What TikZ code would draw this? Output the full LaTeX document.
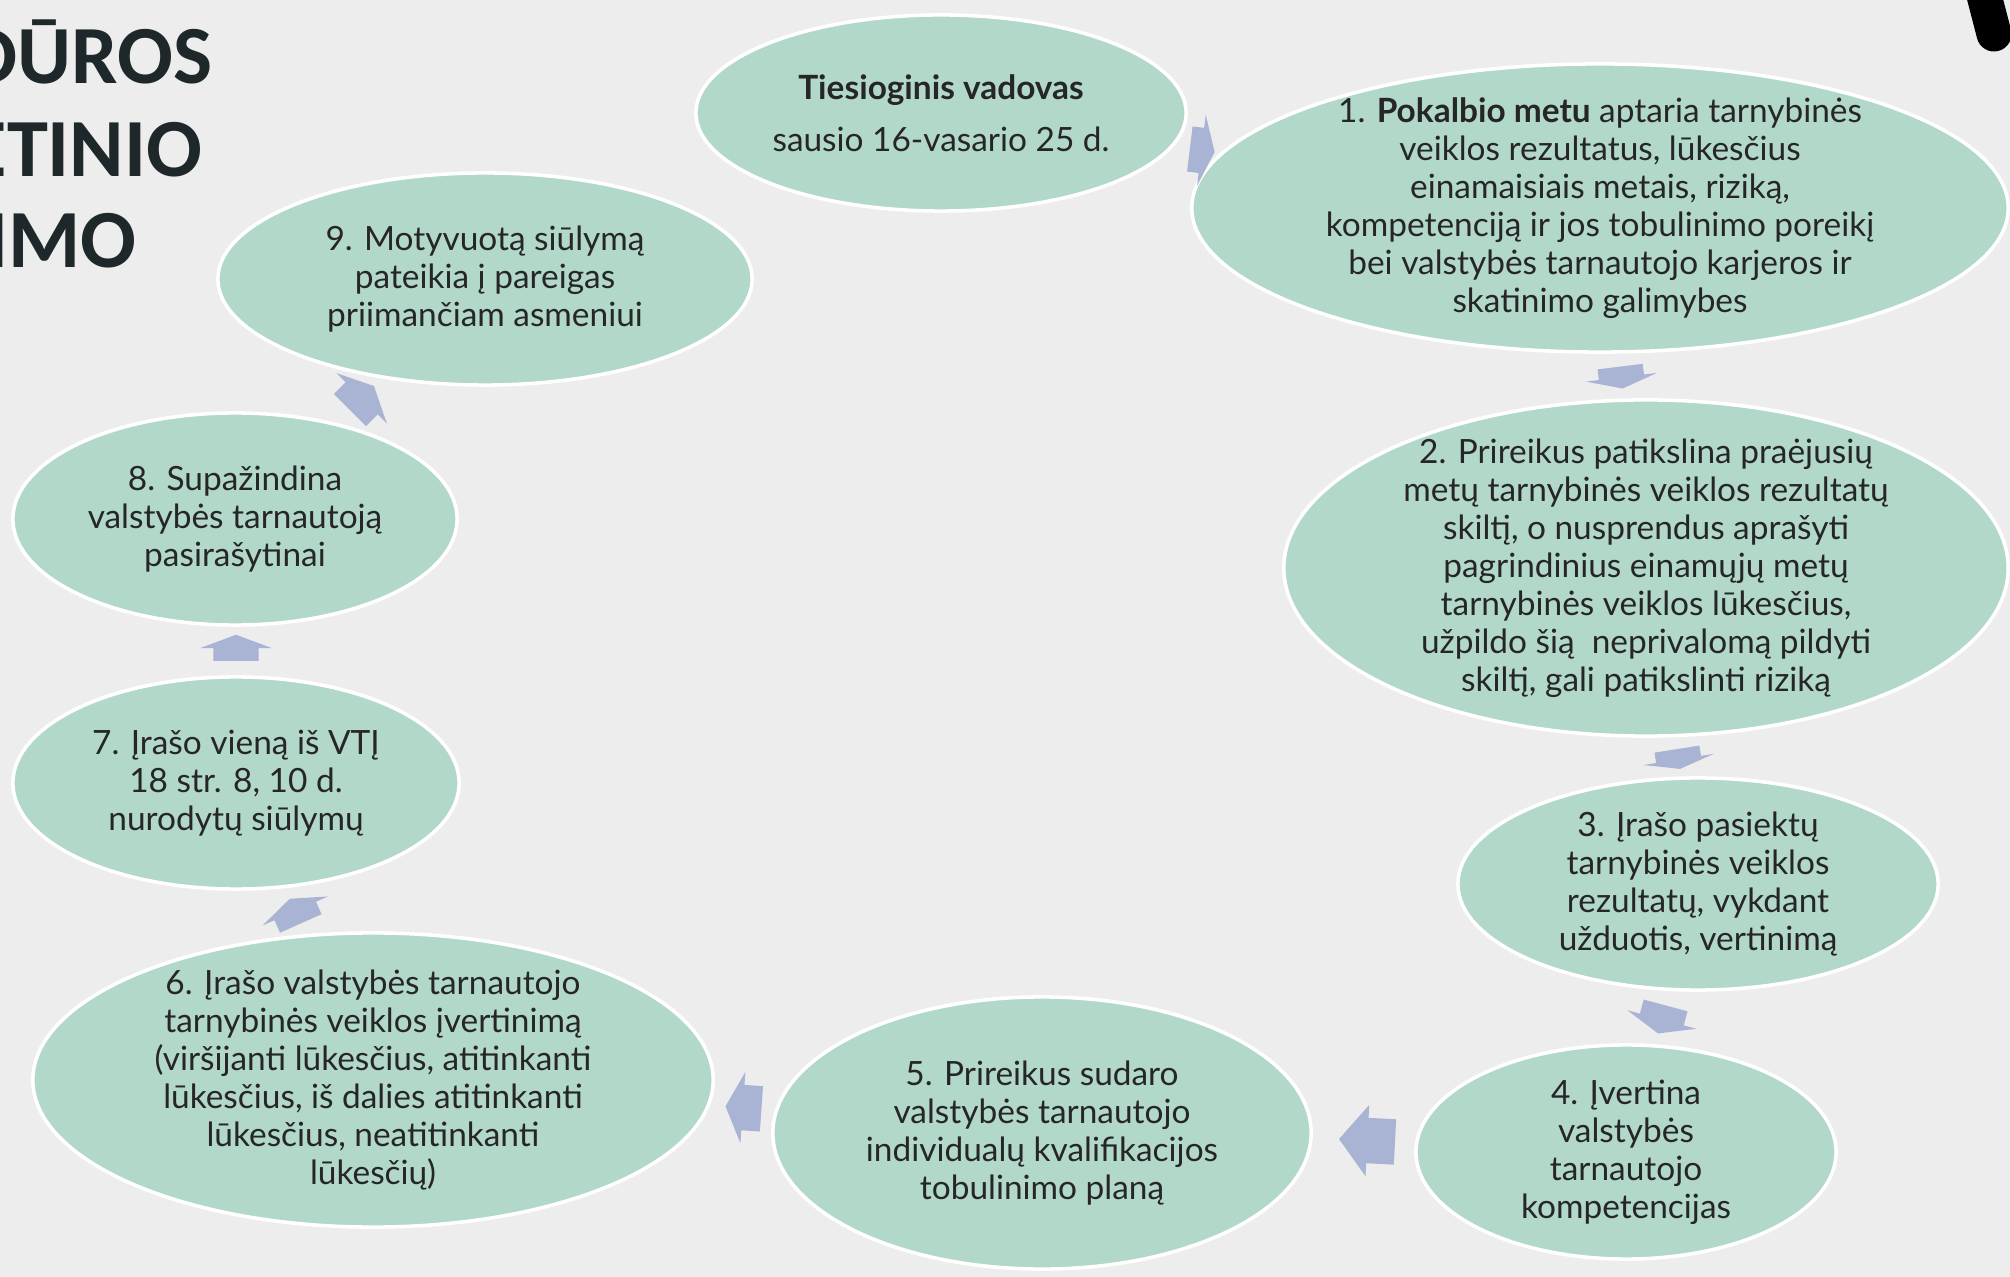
\documentclass[tikz,border=0pt]{standalone}
\usepackage{fontspec}
\setmainfont{Lato}
\newfontfamily\titlefont{Carlito}
\usetikzlibrary{shapes.geometric,shapes.arrows}

\definecolor{bgc}{HTML}{EDEDED}
\definecolor{bubblec}{HTML}{B2D8CA}
\definecolor{arrowc}{HTML}{A9B3D3}
\definecolor{titlec}{HTML}{1E282A}
\definecolor{textc}{HTML}{262626}

\tikzset{
  bubble/.style={ellipse, fill=bubblec, draw=white, line width=1pt, inner sep=0pt},
  bubbletext/.style={align=center, text=textc, inner sep=0pt, font=\fontsize{9.5}{10.8}\selectfont},
  cyclearrow/.style={single arrow, fill=arrowc, draw=none, inner xsep=0pt, inner ysep=0.22cm,
    minimum width=0.7cm, single arrow head extend=0.13cm},
  titletext/.style={anchor=base east, inner sep=0pt, text=titlec,
    font=\titlefont\bfseries\fontsize{23.5}{26}\selectfont}
}

\begin{document}
\begin{tikzpicture}[x=0.01cm, y=-0.01cm]
    \fill [bgc] (0,0) rectangle (2010,1277);
    \useasboundingbox (0,0) rectangle (2010,1277);
    \clip (0,0) rectangle (2010,1277);

    % title, cut at the left edge
    \node [titletext] (title1) at (213,84) {DŪROS};
    \node [titletext] (title2) at (203,177) {ETINIO};
    \node [titletext] (title3) at (137,268) {IMO};
    % piece of a mark at the top right
    \draw [line width=0.35cm, line cap=round] (1980,-20) -- (1994,34);

    % the steps
    \node [bubble, minimum width=4.9cm, minimum height=1.96cm] (e0) at (941,113) {};
    \node [bubble, minimum width=8.16cm, minimum height=2.88cm] (e1) at (1600,208) {};
    \node [bubble, minimum width=7.24cm, minimum height=3.36cm] (e2) at (1646,568) {};
    \node [bubble, minimum width=4.8cm, minimum height=2.12cm] (e3) at (1698,884) {};
    \node [bubble, minimum width=4.2cm, minimum height=2.14cm] (e4) at (1626,1152) {};
    \node [bubble, minimum width=5.38cm, minimum height=2.72cm] (e5) at (1042,1133) {};
    \node [bubble, minimum width=6.8cm, minimum height=2.94cm] (e6) at (373,1080) {};
    \node [bubble, minimum width=4.46cm, minimum height=2.12cm] (e7) at (236,783) {};
    \node [bubble, minimum width=4.44cm, minimum height=2.12cm] (e8) at (235,519) {};
    \node [bubble, minimum width=5.34cm, minimum height=2.12cm] (e9) at (485,279) {};

    \node [bubbletext] (t0) at (e0) {\textbf{Tiesioginis vadovas}\\[4pt] sausio 16-vasario 25 d.};
    \node [bubbletext] (t1) at (e1) {1. \textbf{Pokalbio metu} aptaria tarnybinės\\ veiklos rezultatus, lūkesčius\\ einamaisiais metais, riziką,\\ kompetenciją ir jos tobulinimo poreikį\\ bei valstybės tarnautojo karjeros ir\\ skatinimo galimybes};
    \node [bubbletext] (t2) at (e2) {2. Prireikus patikslina praėjusių\\ metų tarnybinės veiklos rezultatų\\ skiltį, o nusprendus aprašyti\\ pagrindinius einamųjų metų\\ tarnybinės veiklos lūkesčius,\\ užpildo šią\ \ neprivalomą pildyti\\ skiltį, gali patikslinti riziką};
    \node [bubbletext] (t3) at (e3) {3. Įrašo pasiektų\\ tarnybinės veiklos\\ rezultatų, vykdant\\ užduotis, vertinimą};
    \node [bubbletext] (t4) at (e4) {4. Įvertina\\ valstybės\\ tarnautojo\\ kompetencijas};
    \node [bubbletext] (t5) at (e5) {5. Prireikus sudaro\\ valstybės tarnautojo\\ individualų kvalifikacijos\\ tobulinimo planą};
    \node [bubbletext] (t6) at (e6) {6. Įrašo valstybės tarnautojo\\ tarnybinės veiklos įvertinimą\\ (viršijanti lūkesčius, atitinkanti\\ lūkesčius, iš dalies atitinkanti\\ lūkesčius, neatitinkanti\\ lūkesčių)};
    \node [bubbletext] (t7) at (e7) {7. Įrašo vieną iš VTĮ\\ 18 str. 8, 10 d.\\ nurodytų siūlymų};
    \node [bubbletext] (t8) at (e8) {8. Supažindina\\ valstybės tarnautoją\\ pasirašytinai};
    \node [bubbletext] (t9) at (e9) {9. Motyvuotą siūlymą\\ pateikia į pareigas\\ priimančiam asmeniui};

    % arrows round the cycle
    \node [cyclearrow, minimum height=0.25cm, single arrow tip angle=139, rotate=-7] (a0) at (1198,150) {};
    \node [cyclearrow, minimum height=0.22cm, single arrow tip angle=145, rotate=-83] (a1) at (1621,374) {};
    \node [cyclearrow, minimum height=0.2cm, single arrow tip angle=150, rotate=-81] (a2) at (1678,756) {};
    \node [cyclearrow, minimum height=0.29cm, single arrow tip angle=136, rotate=-105] (a3) at (1663,1015) {};
    \node [cyclearrow, minimum height=0.56cm, single arrow tip angle=103, rotate=177] (a4) at (1376,1141) {};
    \node [cyclearrow, minimum height=0.36cm, single arrow tip angle=128, rotate=176] (a5) at (749,1108) {};
    \node [cyclearrow, minimum height=0.27cm, single arrow tip angle=139, rotate=114] (a6) at (297,915) {};
    \node [cyclearrow, minimum height=0.26cm, single arrow tip angle=139, rotate=90] (a7) at (236,652) {};
    \node [cyclearrow, minimum height=0.34cm, single arrow tip angle=128, rotate=45] (a8) at (358,402) {};
\end{tikzpicture}
\end{document}
